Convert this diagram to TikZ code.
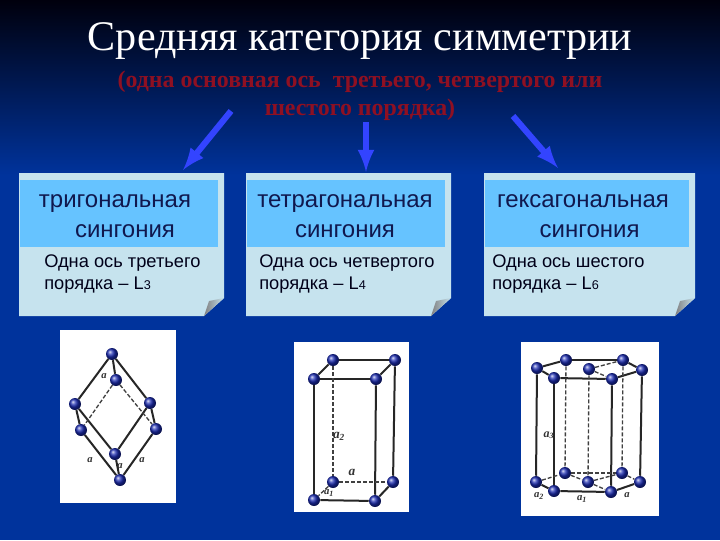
\documentclass[tikz,border=0pt]{standalone}
\usepackage{fontspec}
\setmainfont{Liberation Serif}
\setsansfont{Liberation Sans}
\usetikzlibrary{arrows.meta}
\definecolor{panelblue}{HTML}{C6E3EE}
\definecolor{headblue}{HTML}{66C3FF}
\definecolor{inkblue}{HTML}{10184E}
\definecolor{slideblue}{HTML}{00339C}
\definecolor{subred}{HTML}{8F1022}
\definecolor{arrowblue}{HTML}{3344FF}
\definecolor{atomblue}{HTML}{1A2AB0}
\tikzset{
  atom/.style={circle,inner sep=0pt,minimum size=9pt,ball color=atomblue},
  bond/.style={line width=1.5pt,color=black!85},
  hidden/.style={line width=1pt,color=black!75,dashed,dash pattern=on 3pt off 1.5pt},
  cell/.style={fill=white,draw=none},
  axis/.style={font=\rmfamily\itshape\bfseries\fontsize{8}{8}\selectfont,color=black!80,inner sep=0pt},
  headtext/.style={font=\sffamily\fontsize{18}{22.5}\selectfont,color=inkblue,align=center,inner sep=0pt},
  bodytext/.style={font=\sffamily\fontsize{13.7}{17.2}\selectfont,color=black!90!blue,align=left,inner sep=0pt},
  bigarrow/.style={->,>=latex,line width=4.6pt,color=arrowblue,shorten >=0pt},
}
\newcommand{\lsub}[1]{{\fontsize{9.5}{9.5}\selectfont #1}}
\begin{document}
\begin{tikzpicture}[x=0.75pt,y=-0.75pt]
  \useasboundingbox (0,0) rectangle (720,540);

  % background
  \shade[top color=black!95!blue,bottom color=slideblue] (0,0) rectangle (720,175);
  \fill[slideblue] (0,175) rectangle (720,540);

  % title
  \node[font=\fontsize{31.6}{31.6}\selectfont,color=white,inner sep=0pt] (title) at (360,41)
  {Средняя категория симметрии};
  \node[font=\bfseries\fontsize{17.9}{21}\selectfont,color=subred,align=center,inner sep=0pt] (subtitle)
  at (360,96) {(одна основная ось\ \ третьего, четвертого или\\шестого порядка)};

  % arrows
  \coordinate (from1) at (231,111);
  \coordinate (to1) at (183,170);
  \coordinate (from2) at (366,122);
  \coordinate (to2) at (366,172);
  \coordinate (from3) at (513,116);
  \coordinate (to3) at (558,168);
  \foreach \i in {1,2,3}
  \draw[bigarrow] (from\i) -- (to\i);

  % panels
  \foreach \xl/\xr in {19/224,246/451,484/695}
  {
  \fill[panelblue] (\xl,173) -- (\xr,173) -- (\xr,298) -- (\xr-20,316) -- (\xl,316) -- cycle;
  \shade[left color=black!50,right color=panelblue] (\xr,298) -- (\xr-20,316) -- (\xr-15,301) -- cycle;
  \fill[headblue] (\xl+1,180) rectangle (\xr-6,247);
  }

  % panel texts
  \node[headtext] (head1) at (115,216) {тригональная\\\ \ \ сингония};
  \node[headtext] (head2) at (345,216) {тетрагональная\\сингония};
  \node[headtext] (head3) at (583,216) {гексагональная\\\ \ сингония};
  \node[bodytext,anchor=north west] (body1) at (44,254) {Одна ось третьего\\порядка – L\lsub{3}};
  \node[bodytext,anchor=north west] (body2) at (259,254) {Одна ось четвертого\\порядка – L\lsub{4}};
  \node[bodytext,anchor=north west] (body3) at (492,254) {Одна ось шестого\\порядка – L\lsub{6}};

  % crystal cells
  \fill[cell] (60,330) rectangle (176,503);
  \fill[cell] (294,342) rectangle (409,512);
  \fill[cell] (521,342) rectangle (659,516);

  % trigonal atoms
  \foreach \name/\px/\py in {ta/112/354,tb/116/380,tc/75/404,td/81/430,te/150/403,tf/156/429,tg/115/454,th/120/480}
  \node[atom] (\name) at (\px,\py) {};
  \foreach \p/\q in {ta/tc,ta/te,ta/tb,tc/td,te/tf,tc/tg,te/tg,td/th,tf/th,tg/th}
  \draw[bond] (\p) -- (\q);
  \foreach \p/\q in {tb/td,tb/tf}
  \draw[hidden] (\p) -- (\q);
  \node[axis] (ta1) at (104,376) {a};
  \node[axis] (ta2) at (90,460) {a};
  \node[axis] (ta3) at (142,460) {a};
  \node[axis] (ta4) at (120,466) {a};

  % tetragonal atoms
  \foreach \name/\px/\py in {qa/333/360,qb/395/360,qc/314/379,qd/376/379,qe/333/482,qf/393/482,qg/314/500,qh/375/501}
  \node[atom] (\name) at (\px,\py) {};
  \foreach \p/\q in {qa/qb,qa/qc,qb/qd,qc/qd,qc/qg,qd/qh,qb/qf,qg/qh,qf/qh}
  \draw[bond] (\p) -- (\q);
  \foreach \p/\q in {qa/qe,qe/qf,qe/qg}
  \draw[hidden] (\p) -- (\q);
  \node[axis,font=\rmfamily\itshape\bfseries\fontsize{10}{10}\selectfont] (qa1) at (339,436) {a\textsubscript{2}};
  \node[axis,font=\rmfamily\itshape\bfseries\fontsize{10}{10}\selectfont] (qa2) at (352,472) {a};
  \node[axis] (qa3) at (329,493) {a\textsubscript{1}};

  % hexagonal atoms
  \foreach \name/\px/\py in {ha/537/368,hb/566/360,hc/623/360,hd/642/370,he/612/379,hf/554/378,hg/589/369,ia/536/482,ib/565/473,ic/622/473,id/640/482,ie/611/492,if/554/491,ig/588/482}
  \node[atom] (\name) at (\px,\py) {};
  \foreach \p/\q in {ha/hb,hb/hc,hc/hd,hd/he,he/hf,hf/ha,ha/ia,hd/id,hf/if,he/ie,if/ie,if/ia,ie/id}
  \draw[bond] (\p) -- (\q);
  \foreach \p/\q in {hb/ib,hc/ic,hg/ig,ib/ic,ia/ib,ic/id,ib/ig,ig/ic,ig/ie,hg/he,hg/hc}
  \draw[hidden] (\p) -- (\q);
  \node[axis,font=\rmfamily\itshape\bfseries\fontsize{9}{9}\selectfont] (ha1) at (549,435) {a\textsubscript{3}};
  \node[axis] (ha2) at (539,496) {a\textsubscript{2}};
  \node[axis] (ha3) at (582,499) {a\textsubscript{1}};
  \node[axis] (ha4) at (627,495) {a};

\end{tikzpicture}
\end{document}
